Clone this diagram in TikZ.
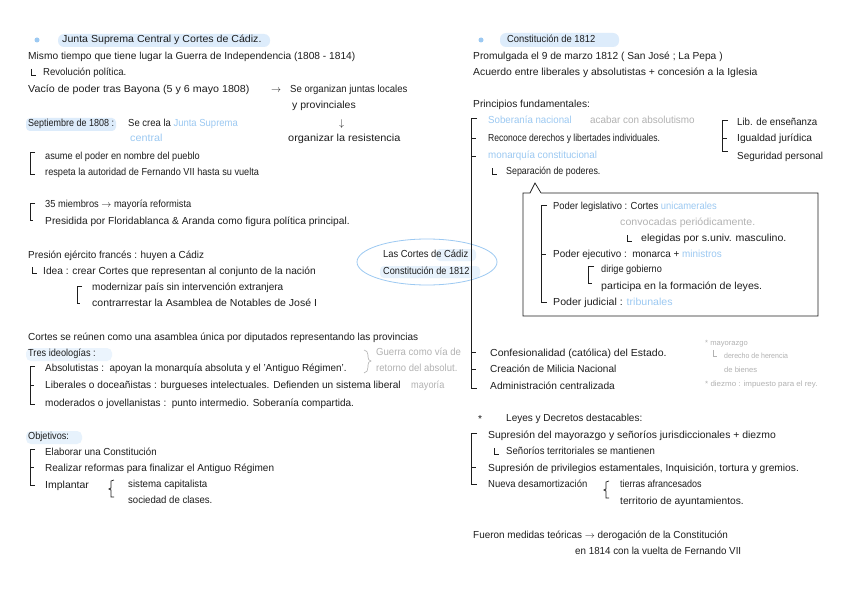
\documentclass[tikz,border=0pt]{standalone}
\usepackage{fontspec}
\setmainfont{Liberation Sans}
\usetikzlibrary{shapes.geometric}
\definecolor{lblue}{HTML}{9CC9F2}
\definecolor{hl}{HTML}{DDECFB}
\definecolor{lgray}{HTML}{B2B2B2}
\definecolor{ink}{HTML}{1E1E1E}
\newcommand{\sx}[2]{{\addfontfeature{FakeStretch=#1}#2}}
\begin{document}
\begin{tikzpicture}[x=1pt,y=-1pt,
  txt/.style={anchor=base west, inner sep=0pt, text=ink, font=\fontsize{10.2}{12}\selectfont},
  small/.style={anchor=base west, inner sep=0pt, font=\fontsize{7.6}{9}\selectfont, text=lgray},
  gr/.style={txt, text=lgray},
  bl/.style={txt, text=lblue},
  brk/.style={line width=0.7pt, ink},
  hlbox/.style={fill=hl, rounded corners=6pt, draw=none},
  dot/.style={circle, fill=lblue, inner sep=0pt, minimum size=5pt}]
\useasboundingbox (0,0) rectangle (848,599);
\fill[white] (0,0) rectangle (848,599);

% ---------- LEFT COLUMN ----------
\fill[hlbox] (58,34) rectangle (270,47);
\node[dot] (b1) at (37,40) {};
\node[txt] (n1) at (62,43) {\sx{1.04}{Junta Suprema Central y Cortes de Cádiz.}};
\node[txt] (n2) at (28,60) {Mismo tiempo que tiene lugar la Guerra de Independencia (1808 - 1814)};
\draw[brk] (31,69) -- (31,75) -- (36,75);
\node[txt] (n3) at (43,76) {\sx{0.94}{Revolución política.}};
\node[txt] (n4) at (28,93) {\sx{1.05}{Vacío de poder tras Bayona (5 y 6 mayo 1808)}};
\node[txt] (n5) at (271,93) {$\rightarrow$};
\node[txt] (n6) at (290,93) {\sx{0.94}{Se organizan juntas locales}};
\node[txt] (n7) at (292,109) {\sx{1.03}{y provinciales}};
\fill[hlbox,rounded corners=4pt] (26,118) rectangle (116,131);
\node[txt] (n8) at (28,126) {\sx{0.88}{Septiembre de 1808 :}};
\node[txt] (n9) at (128,126) {\sx{0.93}{Se crea la \textcolor{lblue}{Junta Suprema}}};
\node[bl] (n10) at (130,142) {\sx{1.06}{central}};
\node[txt] (n11) at (339,126) {$\downarrow$};
\node[txt] (n12) at (288,142) {\sx{1.07}{organizar la resistencia}};

\draw[brk] (35,152) -- (30,152) -- (30,174) -- (35,174);
\node[txt] (n13) at (45,159) {\sx{0.9}{asume el poder en nombre del pueblo}};
\node[txt] (n14) at (45,175) {\sx{0.9}{respeta la autoridad de Fernando VII hasta su vuelta}};
\draw[brk] (35,203) -- (30,203) -- (30,220) -- (33,220);
\node[txt] (n15) at (45,207) {\sx{0.91}{35 miembros $\rightarrow$ mayoría reformista}};
\node[txt] (n16) at (45,224) {Presidida por Floridablanca \& Aranda como figura política principal.};

\node[txt] (n17) at (28,258) {\sx{0.97}{Presión ejército francés : huyen a Cádiz}};
\draw[brk] (32,267) -- (32,273) -- (37,273);
\node[txt] (n18) at (43,274) {Idea : crear Cortes que representan al conjunto de la nación};
\draw[brk] (82,286) -- (77,286) -- (77,303) -- (80,303);
\node[txt] (n19) at (92,290) {\sx{0.98}{modernizar país sin intervención extranjera}};
\node[txt] (n20) at (92,306) {\sx{1.03}{contrarrestar la Asamblea de Notables de José I}};

\node[txt] (n21) at (28,340) {\sx{0.98}{Cortes se reúnen como una asamblea única por diputados representando las provincias}};
\fill[hl!60,rounded corners=5pt] (26,348) rectangle (112,361);
\node[txt] (n22) at (28,356) {\sx{0.9}{Tres ideologías :}};
\draw[brk] (35,366) -- (30,366) -- (30,404) -- (35,404);
\draw[brk] (30,385) -- (34,385);
\node[txt] (n23) at (45,371) {\sx{0.97}{Absolutistas :\ \ apoyan la monarquía absoluta y el 'Antiguo Régimen'.}};
\node[txt] (n24) at (45,388) {\sx{0.99}{Liberales o doceañistas : burgueses intelectuales. Defienden un sistema liberal}};
\node[gr] (n25) at (411,388) {\sx{0.9}{mayoría}};
\node[txt] (n26) at (45,406) {\sx{0.98}{moderados o jovellanistas :\ \ punto intermedio. Soberanía compartida.}};
\draw[lgray, line width=0.6pt] (364,350) to[out=0,in=90] (368,355) -- (368,357) to[out=-90,in=180] (371,361)
   to[out=180,in=90] (368,365) -- (368,367) to[out=-90,in=0] (364,373);
\node[gr] (n27) at (376,355) {\sx{0.94}{Guerra como vía de}};
\node[gr] (n28) at (376,371) {\sx{0.93}{retorno del absolut.}};

\fill[hl!70,rounded corners=5pt] (26,431) rectangle (82,444);
\node[txt] (n29) at (28,439) {\sx{0.9}{Objetivos:}};
\draw[brk] (35,449) -- (30,449) -- (30,485) -- (35,485);
\draw[brk] (30,467) -- (34,467);
\node[txt] (n30) at (45,455) {\sx{0.95}{Elaborar una Constitución}};
\node[txt] (n31) at (45,471) {\sx{0.98}{Realizar reformas para finalizar el Antiguo Régimen}};
\node[txt] (n32) at (45,488) {\sx{1.03}{Implantar}};
\draw[brk] (114,480) -- (111,481) -- (111,488) -- (109,489) -- (111,490) -- (111,497) -- (114,497);
\node[txt] (n33) at (128,487) {\sx{0.95}{sistema capitalista}};
\node[txt] (n34) at (128,503) {\sx{0.94}{sociedad de clases.}};

% ---------- CENTRE ----------
\fill[hl!70,rounded corners=4pt] (436,249) rectangle (476,261);
\fill[hl!70,rounded corners=4pt] (380,266) rectangle (480,278);
\node[ellipse, draw=lblue, line width=0.8pt, minimum width=140pt, minimum height=46pt] (ell) at (427,262) {};
\node[txt] (c1) at (383,257) {\sx{0.92}{Las Cortes de Cádiz}};
\node[txt] (c2) at (383,274) {\sx{0.9}{Constitución de 1812}};

% ---------- RIGHT COLUMN ----------
\fill[hlbox] (500,33) rectangle (619,47);
\node[dot] (b2) at (481,40) {};
\node[txt] (r1) at (507,43) {\sx{0.92}{Constitución de 1812}};
\node[txt] (r2) at (473,60) {Promulgada el 9 de marzo 1812 ( San José ; La Pepa )};
\node[txt] (r3) at (473,76) {\sx{1.02}{Acuerdo entre liberales y absolutistas + concesión a la Iglesia}};
\node[txt] (r4) at (473,108) {Principios fundamentales:};

\draw[brk] (477,118) -- (471,118) -- (471,388) -- (477,388);
\foreach \yy in {138,156,352,369} \draw[brk] (471,\yy) -- (476,\yy);
\node[bl] (r5) at (488,124) {\sx{0.95}{Soberanía nacional}};
\node[gr] (r6) at (590,124) {\sx{0.97}{acabar con absolutismo}};
\node[txt] (r7) at (488,141) {\sx{0.84}{Reconoce derechos y libertades individuales.}};
\node[bl] (r8) at (488,158) {\sx{0.96}{monarquía constitucional}};
\draw[brk] (492,168) -- (492,174) -- (497,174);
\node[txt] (r9) at (506,174) {\sx{0.87}{Separación de poderes.}};

\draw[brk] (728,120) -- (722,120) -- (722,151) -- (728,151);
\draw[brk] (722,138) -- (727,138);
\node[txt] (r10) at (737,125) {\sx{0.95}{Lib. de enseñanza}};
\node[txt] (r11) at (737,142) {Igualdad jurídica};
\node[txt] (r12) at (737,159) {\sx{0.97}{Seguridad personal}};

\draw[line width=0.7pt, ink] (541,193) -- (818,193) -- (818,316) -- (523,316) -- (523,193) -- (530,193) -- (535,183) -- (541,193);
\draw[brk] (547,205) -- (541,205) -- (541,302) -- (547,302);
\draw[brk] (541,254) -- (546,254);
\node[txt] (r13) at (553,209) {\sx{0.92}{Poder legislativo : Cortes \textcolor{lblue}{unicamerales}}};
\node[gr] (r14) at (620,225) {\sx{1.04}{convocadas periódicamente.}};
\draw[brk] (627,235) -- (627,241) -- (632,241);
\node[txt] (r15) at (641,241) {\sx{1.04}{elegidas por s.univ. masculino.}};
\node[txt] (r16) at (553,257) {\sx{0.97}{Poder ejecutivo :\ \ monarca + \textcolor{lblue}{ministros}}};
\draw[brk] (594,266) -- (588,266) -- (588,283) -- (592,283);
\node[txt] (r17) at (601,272) {\sx{0.9}{dirige gobierno}};
\node[txt] (r18) at (601,289) {\sx{1.04}{participa en la formación de leyes.}};
\node[txt] (r19) at (553,305) {\sx{1.04}{Poder judicial : \textcolor{lblue}{tribunales}}};

\node[txt] (r20) at (490,356) {\sx{1.03}{Confesionalidad (católica) del Estado.}};
\node[txt] (r21) at (490,372) {\sx{0.98}{Creación de Milicia Nacional}};
\node[txt] (r22) at (490,389) {Administración centralizada};
\node[small] (g1) at (705,345) {* mayorazgo};
\draw[lgray, line width=0.5pt] (713,350) -- (713,356) -- (717,356);
\node[small] (g2) at (724,358) {\sx{0.92}{derecho de herencia}};
\node[small] (g3) at (724,372) {de bienes};
\node[small] (g4) at (705,386) {\sx{1.05}{* diezmo : impuesto para el rey.}};

\node[txt] (r23) at (478,422) {*};
\node[txt] (r24) at (506,421) {\sx{0.98}{Leyes y Decretos destacables:}};
\draw[brk] (477,433) -- (471,433) -- (471,484) -- (477,484);
\draw[brk] (471,467) -- (476,467);
\node[txt] (r25) at (488,438) {\sx{1.02}{Supresión del mayorazgo y señoríos jurisdiccionales + diezmo}};
\draw[brk] (494,448) -- (494,454) -- (499,454);
\node[txt] (r26) at (506,454) {\sx{0.94}{Señoríos territoriales se mantienen}};
\node[txt] (r27) at (488,471) {Supresión de privilegios estamentales, Inquisición, tortura y gremios.};
\node[txt] (r28) at (488,487) {\sx{0.93}{Nueva desamortización}};
\draw[brk] (609,481) -- (606,482) -- (606,489) -- (604,490) -- (606,491) -- (606,498) -- (609,498);
\node[txt] (r29) at (620,487) {\sx{0.88}{tierras afrancesados}};
\node[txt] (r30) at (620,504) {territorio de ayuntamientos.};
\node[txt] (r31) at (473,538) {\sx{0.97}{Fueron medidas teóricas $\rightarrow$ derogación de la Constitución}};
\node[txt] (r32) at (575,554) {\sx{0.96}{en 1814 con la vuelta de Fernando VII}};
\end{tikzpicture}
\end{document}
